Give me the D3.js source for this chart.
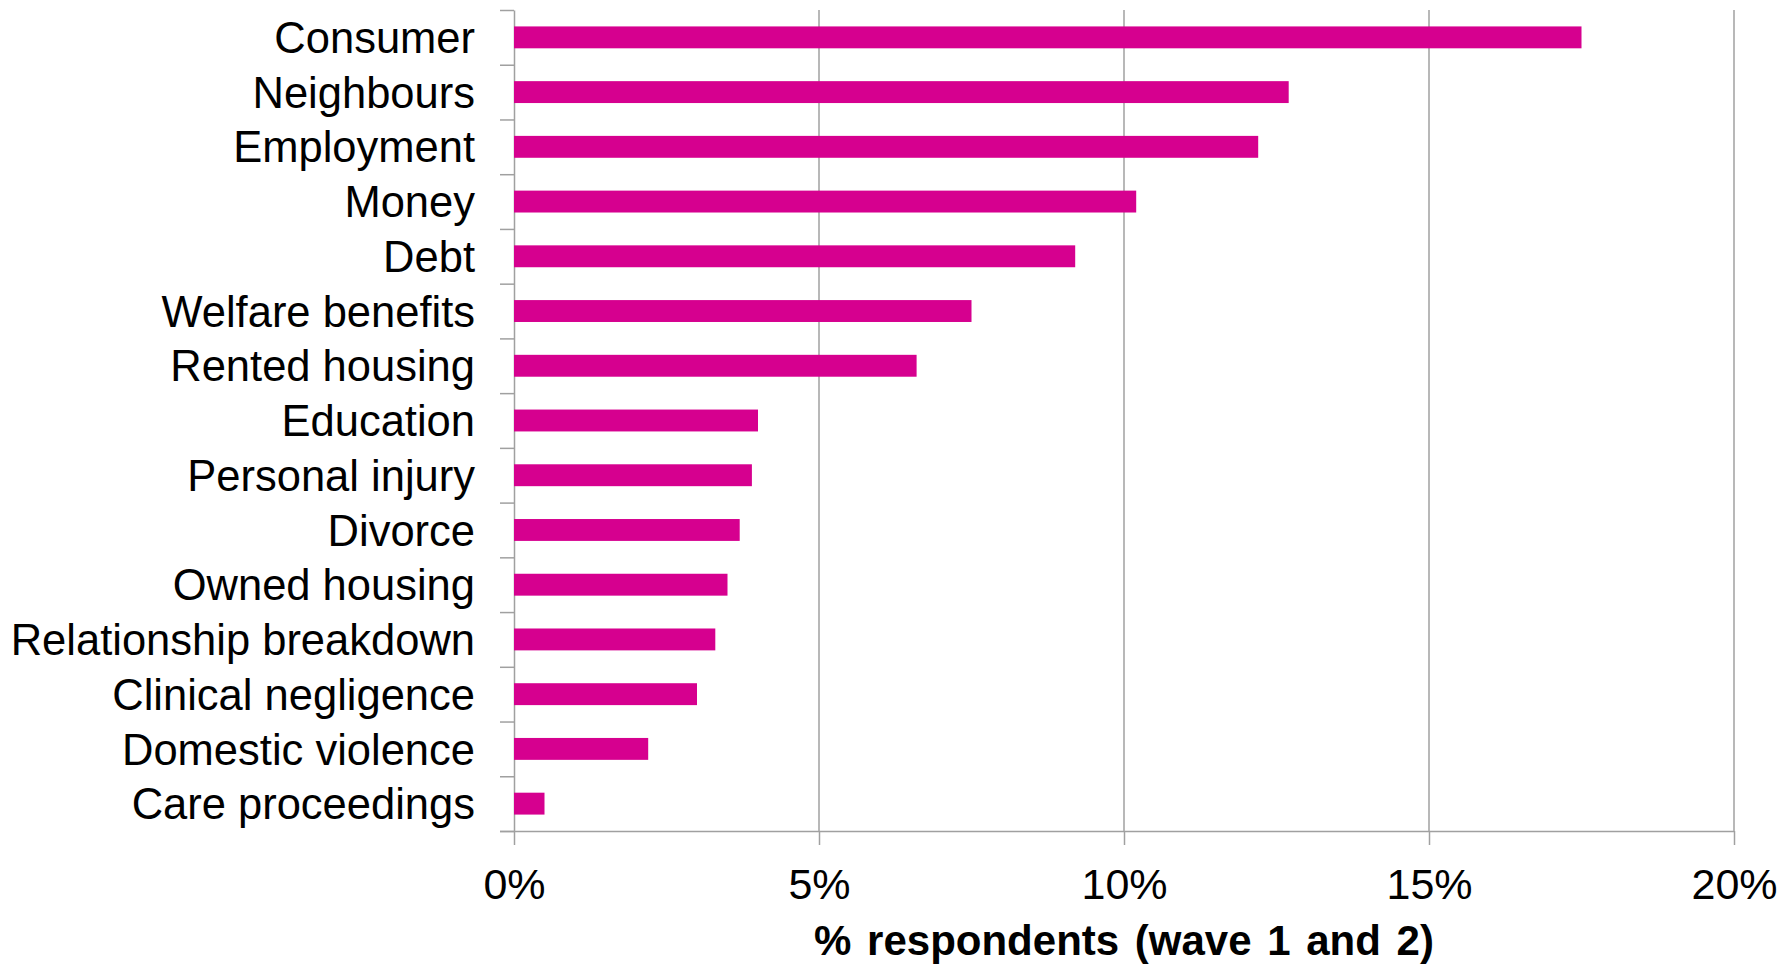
<!DOCTYPE html>
<html>
<head>
<meta charset="utf-8">
<script src="https://cdn.jsdelivr.net/npm/d3@7"></script>
<style>
  body { margin: 0; background: #fff; }
  text { font-family: "Liberation Sans", Arial, sans-serif; fill: #000; }
  .axis path, .axis line { stroke: #a0a0a0; stroke-width: 1.5; }
  .grid line { stroke: #a0a0a0; stroke-width: 1.5; }
</style>
</head>
<body>
<script>
const categories = ["Consumer", "Neighbours", "Employment", "Money", "Debt", "Welfare benefits",
  "Rented housing", "Education", "Personal injury", "Divorce", "Owned housing",
  "Relationship breakdown", "Clinical negligence", "Domestic violence", "Care proceedings"];
const values = [17.5, 12.7, 12.2, 10.2, 9.2, 7.5, 6.6, 4.0, 3.9, 3.7, 3.5, 3.3, 3.0, 2.2, 0.5];
const xTicks = [0, 5, 10, 15, 20];
const xTitle = "% respondents (wave 1 and 2)";

const W = 1791, H = 964;
let margin = {top: 10, left: 514, right: 1734, bottom: 831};

const svg = d3.select("body").append("svg")
    .attr("width", W)
    .attr("height", H);

let xScale = d3.scaleLinear().domain([0, 20]).range([margin.left, margin.right]);
let yScale = d3.scaleBand().domain(categories).range([margin.top, margin.bottom])
    .paddingInner(0.6).paddingOuter(0.3);
// band boundaries, for the little tick marks on the y axis
let edgeScale = d3.scaleLinear().domain([0, categories.length]).range([margin.top, margin.bottom]);

// vertical gridlines
svg.append("g")
    .attr("class", "grid")
  .selectAll("line")
    .data(xTicks.slice(1))
  .enter().append("line")
    .attr("x1", d => xScale(d))
    .attr("x2", d => xScale(d))
    .attr("y1", margin.top)
    .attr("y2", margin.bottom);

// x axis
const xAxis = svg.append("g")
    .attr("class", "x axis")
    .attr("transform", "translate(0," + margin.bottom + ")")
    .call(d3.axisBottom(xScale).tickValues(xTicks).tickSize(14).tickSizeOuter(0)
      .tickFormat(d => d + "%").tickPadding(23));
xAxis.selectAll("text")
    .style("font-size", "43px")
    .attr("dy", "0.71em");
xAxis.select(".domain").attr("d", "M" + (margin.left - 14) + ",0.5H" + margin.right);

// y axis (ticks on band edges)
svg.append("g")
    .attr("class", "y axis")
    .attr("transform", "translate(" + margin.left + ",0)")
    .call(d3.axisLeft(edgeScale).tickValues(d3.range(categories.length + 1))
      .tickSize(14).tickSizeOuter(0).tickFormat(""));

// bars
svg.selectAll(".bar")
    .data(values)
  .enter().append("rect")
    .attr("class", "bar")
    .attr("x", xScale(0))
    .attr("y", (d, i) => yScale(categories[i]))
    .attr("width", d => xScale(d) - xScale(0))
    .attr("height", yScale.bandwidth())
    .attr("fill", "#d6008f");

// category labels
svg.selectAll(".cat")
    .data(categories)
  .enter().append("text")
    .attr("class", "cat")
    .attr("x", margin.left - 39)
    .attr("y", d => yScale(d) + yScale.bandwidth() / 2)
    .attr("dy", "0.36em")
    .attr("text-anchor", "end")
    .style("font-size", "43.5px")
    .text(d => d);

// axis title
svg.append("text")
    .attr("x", (margin.left + margin.right) / 2)
    .attr("y", 955)
    .attr("text-anchor", "middle")
    .style("font-size", "42px")
    .style("font-weight", "bold")
    .style("word-spacing", "4px")
    .text(xTitle);
</script>
</body>
</html>
